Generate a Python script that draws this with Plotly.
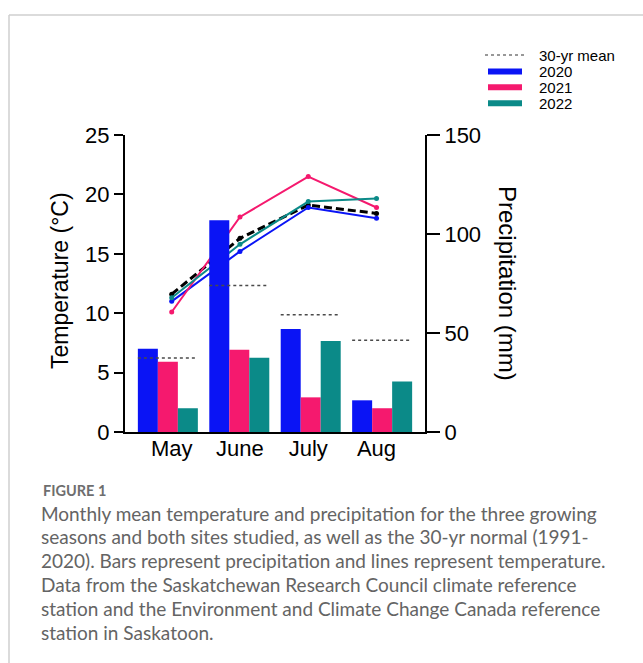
import plotly.graph_objects as go

W, H = 643, 663

months = ["May", "June", "July", "Aug"]
years = ["2020", "2021", "2022"]
colors = {"2020": "#0a14f5", "2021": "#f5196e", "2022": "#0b8a88"}

# Precipitation (mm) - bars
precip = {
    "2020": [42, 107, 52, 16],
    "2021": [35.5, 41.5, 17.5, 12],
    "2022": [12, 37.5, 46, 25.5],
}
precip_normal = [37.4, 74, 59.2, 46.3]

# Temperature (°C) - lines
temp = {
    "2020": [11.0, 15.2, 18.9, 18.0],
    "2021": [10.1, 18.1, 21.5, 18.9],
    "2022": [11.3, 15.8, 19.4, 19.65],
}
temp_normal = [11.6, 16.3, 19.1, 18.4]

legend_labels = ["30-yr mean"] + years

caption_title = "FIGURE 1"
caption_lines = [
    "Monthly mean temperature and precipitation for the three growing",
    "seasons and both sites studied, as well as the 30-yr normal (1991-",
    "2020). Bars represent precipitation and lines represent temperature.",
    "Data from the Saskatchewan Research Council climate reference",
    "station and the Environment and Climate Change Canada reference",
    "station in Saskatoon.",
]

fig = go.Figure()

# bars (precipitation) on overlay axes x2/y2
for yr in years:
    fig.add_trace(go.Bar(x=months, y=precip[yr], name=yr, marker_color=colors[yr],
                         marker_line_width=0, xaxis="x2", yaxis="y2", showlegend=False))

# 30-yr normal precipitation: dotted segments spanning each bar group
half = 0.42
for i, v in enumerate(precip_normal):
    fig.add_shape(type="line", xref="x2", yref="y2", x0=i - half, x1=i + half, y0=v, y1=v,
                  line=dict(color="#4a4a4a", width=1.5, dash="dot"))

# temperature lines
fig.add_trace(go.Scatter(x=months, y=temp_normal, mode="lines+markers", name="30-yr mean",
                         line=dict(color="black", width=3, dash="8px,4px"),
                         marker=dict(size=5, color="black"), showlegend=False))
for yr in years:
    fig.add_trace(go.Scatter(x=months, y=temp[yr], mode="lines+markers", name=yr,
                             line=dict(color=colors[yr], width=2),
                             marker=dict(size=5, color=colors[yr]), showlegend=False))

font = "Liberation Sans, Arial, Helvetica, sans-serif"
cap_font = "Lato, Open Sans, sans-serif"
xdom = [125 / W, 425 / W]
ydom = [(H - 432) / H, (H - 135) / H]


def py(p):
    return (H - p) / H


fig.update_layout(
    width=W, height=H,
    autosize=False,
    margin=dict(l=0, r=0, t=0, b=0, pad=0, autoexpand=False),
    paper_bgcolor="white", plot_bgcolor="white",
    bargap=0.16, bargroupgap=0, barmode="group",
    showlegend=False,
    font=dict(family=font, color="black"),
    xaxis=dict(domain=xdom, type="category", range=[-0.684, 3.71], showline=True,
               linecolor="black", linewidth=2, ticks="", showgrid=False, zeroline=False,
               tickfont=dict(size=22, family=font, color="black"), anchor="y",
               ticklabelstandoff=-4, automargin=False),
    yaxis=dict(domain=ydom, range=[0, 25], tickvals=[0, 5, 10, 15, 20, 25], showline=True,
               linecolor="black", linewidth=2, ticks="outside", ticklen=9, tickwidth=2,
               tickcolor="black", showgrid=False, zeroline=False,
               tickfont=dict(size=22, family=font, color="black"), anchor="x",
               automargin=False),
    xaxis2=dict(domain=xdom, type="category", range=[-0.6, 3.6], overlaying="x",
                visible=False, anchor="y2"),
    yaxis2=dict(domain=ydom, range=[0, 150], tickvals=[0, 50, 100, 150], overlaying="y",
                side="right", showline=True, linecolor="black", linewidth=2,
                ticks="outside", ticklen=13, tickwidth=2, tickcolor="black",
                showgrid=False, zeroline=False,
                tickfont=dict(size=22, family=font, color="black"), anchor="x2",
                automargin=False),
)

# axis titles
fig.add_annotation(text="Temperature (°C)", x=60 / W, y=py(281), xref="paper", yref="paper",
                   xanchor="center", yanchor="middle", textangle=-90, showarrow=False,
                   font=dict(size=23, family=font, color="black"))
fig.add_annotation(text="Precipitation (mm)", x=508 / W, y=py(283), xref="paper", yref="paper",
                   xanchor="center", yanchor="middle", textangle=90, showarrow=False,
                   font=dict(size=24, family=font, color="black"))

# legend (top right)
legend_y = [55, 71.5, 87.3, 103.3]
fig.add_shape(type="line", xref="paper", yref="paper", x0=485 / W, x1=527 / W,
              y0=py(legend_y[0]), y1=py(legend_y[0]),
              line=dict(color="#777777", width=1.5, dash="dot"))
for yr, yy in zip(years, legend_y[1:]):
    fig.add_shape(type="rect", xref="paper", yref="paper", x0=488 / W, x1=522 / W,
                  y0=py(yy + 3), y1=py(yy - 3), line_width=0, fillcolor=colors[yr])
for lab, yy in zip(legend_labels, legend_y):
    fig.add_annotation(text=lab, x=538 / W, y=py(yy), xref="paper", yref="paper",
                       xanchor="left", yanchor="middle", showarrow=False, borderpad=0,
                       font=dict(size=15, family=font, color="black"))

# card border
fig.add_shape(type="line", xref="paper", yref="paper", x0=9 / W, x1=1, y0=py(15), y1=py(15),
              line=dict(color="#cfcfcf", width=1.5))
fig.add_shape(type="line", xref="paper", yref="paper", x0=9 / W, x1=9 / W, y0=0, y1=py(15),
              line=dict(color="#cfcfcf", width=1.5))

# caption
fig.add_annotation(text="<b>" + caption_title + "</b>", x=41 / W, y=py(490), xref="paper", yref="paper",
                   xanchor="left", yanchor="middle", showarrow=False,
                   font=dict(size=14.5, family=cap_font, color="#6e6e6e"))
for k, line in enumerate(caption_lines):
    fig.add_annotation(text=line, x=39 / W, y=py(513 + 23.8 * k), xref="paper", yref="paper",
                       xanchor="left", yanchor="middle", showarrow=False,
                       font=dict(size=19, family=cap_font, color="#646464"))

fig.write_html("out.html")
